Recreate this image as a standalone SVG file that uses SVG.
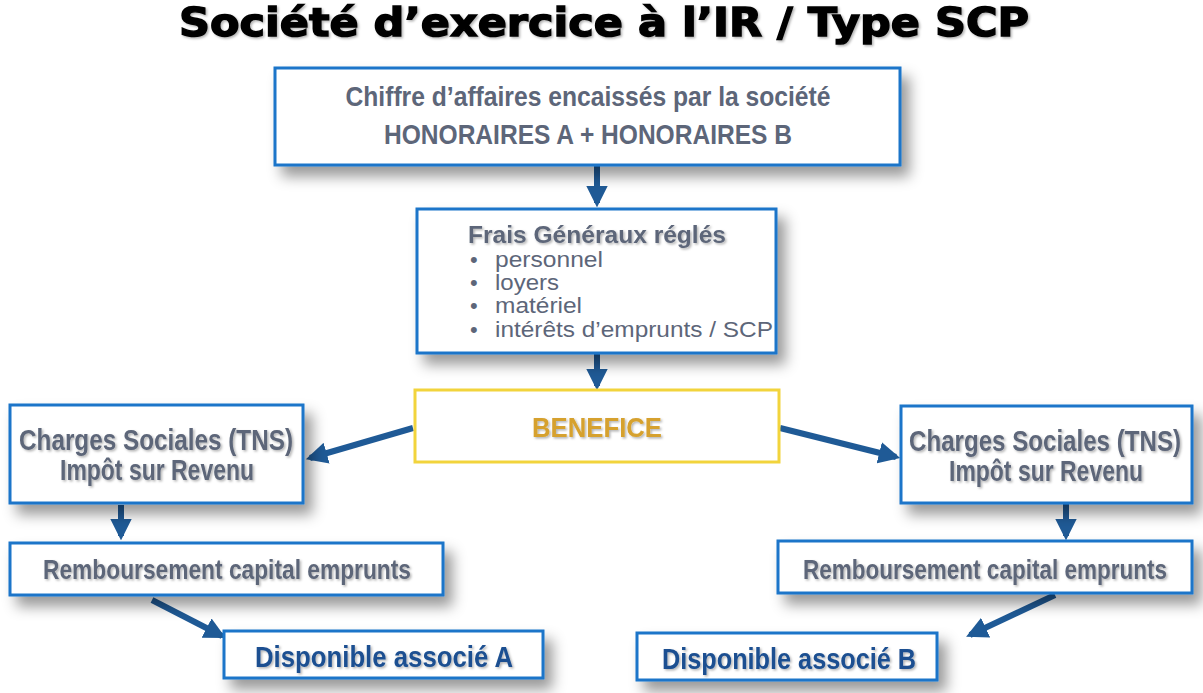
<svg xmlns="http://www.w3.org/2000/svg" width="1203" height="693" viewBox="0 0 1203 693">
<defs>
<filter id="sh" x="-10%" y="-20%" width="130%" height="170%">
<feDropShadow dx="8" dy="10" stdDeviation="7" flood-color="#000" flood-opacity="0.4"/>
</filter>
<filter id="tsh" x="-5%" y="-20%" width="110%" height="150%">
<feDropShadow dx="1.5" dy="1.5" stdDeviation="0.8" flood-color="#000" flood-opacity="0.3"/>
</filter>
<marker id="ah" viewBox="0 0 10 10" refX="8" refY="5" markerWidth="3.6" markerHeight="3.6" orient="auto" markerUnits="strokeWidth">
<path d="M0,0 L10,5 L0,10 z" fill="#1f5a96"/>
</marker>
<style>
.box{fill:#fff;stroke:#1a74c9;stroke-width:3;filter:url(#sh)}
.gold{fill:#fff;stroke:#f2d43c;stroke-width:3}
.t{font-family:"Liberation Sans",Arial,sans-serif;font-weight:bold;fill:#5d6679;text-anchor:middle}
.ts{filter:url(#tsh)}
.reg{font-family:"Liberation Sans",Arial,sans-serif;fill:#5d6679;font-size:22px}
.conn{stroke:#1f5a96;stroke-width:6;fill:none;marker-end:url(#ah)}
</style>
</defs>
<rect width="1203" height="693" fill="#fff"/>
<text x="604" y="36" text-anchor="middle" font-family="'DejaVu Sans',Verdana,sans-serif" font-weight="bold" font-size="39" fill="#000" stroke="#000" stroke-width="1.4" textLength="850" lengthAdjust="spacingAndGlyphs" filter="url(#tsh)">Société d’exercice à l’IR / Type SCP</text>

<g id="connectors">
<line class="conn" x1="597" y1="166" x2="597" y2="203"/>
<line class="conn" x1="597" y1="354" x2="597" y2="386"/>
<line class="conn" x1="413" y1="428" x2="310" y2="458"/>
<line class="conn" x1="780" y1="428" x2="896" y2="457"/>
<line class="conn" x1="121" y1="505" x2="121" y2="536"/>
<line class="conn" x1="1066" y1="504" x2="1066" y2="536"/>
<line class="conn" x1="152" y1="600" x2="222" y2="636"/>
<line class="conn" x1="1055" y1="595" x2="970" y2="635"/>
</g>

<g id="ca">
<rect class="box" x="275" y="68" width="625" height="97"/>
<text class="t" x="588" y="106" font-size="27" textLength="485" lengthAdjust="spacingAndGlyphs">Chiffre d’affaires encaissés par la société</text>
<text class="t" x="588" y="144" font-size="28" textLength="408" lengthAdjust="spacingAndGlyphs">HONORAIRES A + HONORAIRES B</text>
</g>

<g id="frais">
<rect class="box" x="417" y="209" width="359" height="144"/>
<text class="t ts" x="468" y="243" font-size="24" style="text-anchor:start" textLength="258" lengthAdjust="spacingAndGlyphs">Frais Généraux réglés</text>
<text class="reg" x="470" y="267">•</text>
<text class="reg" x="495" y="267" textLength="108" lengthAdjust="spacingAndGlyphs">personnel</text>
<text class="reg" x="470" y="290">•</text>
<text class="reg" x="495" y="290" textLength="64" lengthAdjust="spacingAndGlyphs">loyers</text>
<text class="reg" x="470" y="313">•</text>
<text class="reg" x="495" y="313" textLength="87" lengthAdjust="spacingAndGlyphs">matériel</text>
<text class="reg" x="470" y="337">•</text>
<text class="reg" x="495" y="337" textLength="278" lengthAdjust="spacingAndGlyphs">intérêts d’emprunts / SCP</text>
</g>

<g id="benefice">
<rect class="gold" x="415" y="390" width="364" height="72"/>
<text class="t ts" x="597" y="437" font-size="28" style="fill:#d6a12e" textLength="130" lengthAdjust="spacingAndGlyphs">BENEFICE</text>
</g>

<g id="charges-a">
<rect class="box" x="10" y="405" width="293" height="98"/>
<text class="t ts" x="156" y="450" font-size="29" textLength="274" lengthAdjust="spacingAndGlyphs">Charges Sociales (TNS)</text>
<text class="t ts" x="157" y="480" font-size="29" textLength="194" lengthAdjust="spacingAndGlyphs">Impôt sur Revenu</text>
</g>

<g id="charges-b">
<rect class="box" x="901" y="406" width="291" height="97"/>
<text class="t ts" x="1045" y="451" font-size="29" textLength="272" lengthAdjust="spacingAndGlyphs">Charges Sociales (TNS)</text>
<text class="t ts" x="1046" y="481" font-size="29" textLength="194" lengthAdjust="spacingAndGlyphs">Impôt sur Revenu</text>
</g>

<g id="remb-a">
<rect class="box" x="10" y="543" width="433" height="52"/>
<text class="t ts" x="227" y="579" font-size="28" textLength="368" lengthAdjust="spacingAndGlyphs">Remboursement capital emprunts</text>
</g>

<g id="remb-b">
<rect class="box" x="778" y="541" width="414" height="52"/>
<text class="t ts" x="985" y="579" font-size="28" textLength="364" lengthAdjust="spacingAndGlyphs">Remboursement capital emprunts</text>
</g>

<g id="dispo-a">
<rect class="box" x="224" y="631" width="319" height="47"/>
<text class="t ts" x="384" y="667" font-size="29" style="fill:#1b4f91" textLength="258" lengthAdjust="spacingAndGlyphs">Disponible associé A</text>
</g>

<g id="dispo-b">
<rect class="box" x="637" y="633" width="300" height="47"/>
<text class="t ts" x="789" y="669" font-size="29" style="fill:#1b4f91" textLength="254" lengthAdjust="spacingAndGlyphs">Disponible associé B</text>
</g>
</svg>
